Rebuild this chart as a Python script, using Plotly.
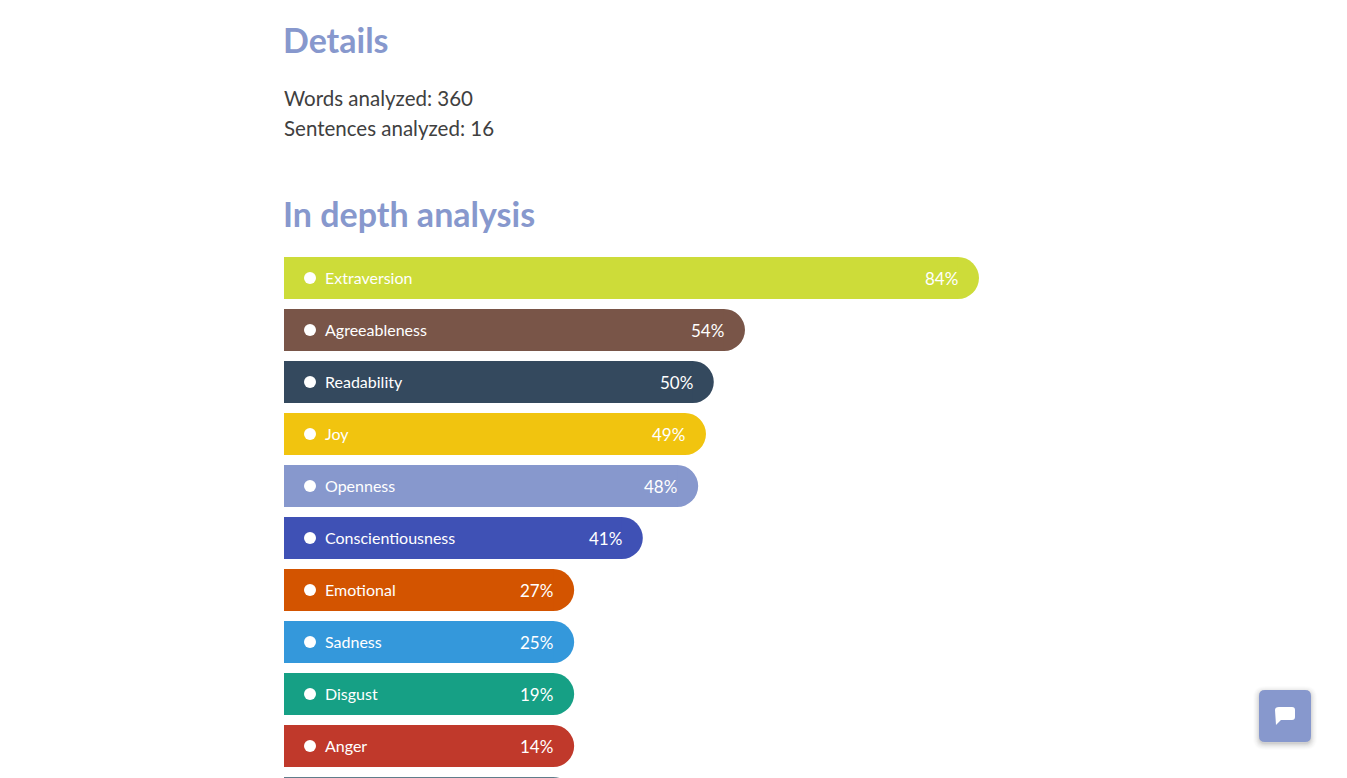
import plotly.graph_objects as go

# ---- data ----
categories = ["Extraversion", "Agreeableness", "Readability", "Joy", "Openness",
              "Conscientiousness", "Emotional", "Sadness", "Disgust", "Anger", "(cut off)"]
percent_labels = ["84%", "54%", "50%", "49%", "48%", "41%", "27%", "25%", "19%", "14%", ""]
# drawn bar extent, in % of the 780px track (the short bars stop at a minimum width)
bar_extent = [89.1, 59.1, 55.1, 54.1, 53.1, 46, 37.2, 37.2, 37.2, 37.2, 37.2]
bar_colors = ["#cddc39", "#795548", "#34495e", "#f1c40f", "#8798cd", "#3f51b5",
              "#d35400", "#3498db", "#16a085", "#c0392b", "#607d8b"]
header_1 = "Details"
detail_lines = ["Words analyzed: 360", "Sentences analyzed: 16"]
header_2 = "In depth analysis"

W, H = 1347, 778
FONT = "Lato"
ACCENT = "#8798cd"
TEXT_DARK = "#404040"
TRACK_LEFT, TRACK_W = 284, 780
ROW0, ROW_H, BAR_H = 278, 52, 42
END_RADIUS = 21
LEFT_RADIUS = 3
unit = TRACK_W / 100

fig = go.Figure()
# fully rounded bar, then a shorter, nearly square bar over it so only the right end stays round
fig.add_bar(y=categories, x=bar_extent, orientation="h", width=BAR_H / ROW_H,
            marker=dict(color=bar_colors, cornerradius=END_RADIUS, line_width=0),
            hoverinfo="skip")
fig.add_bar(y=categories, x=[e - END_RADIUS / unit for e in bar_extent],
            orientation="h", width=BAR_H / ROW_H,
            marker=dict(color=bar_colors, cornerradius=LEFT_RADIUS, line_width=0),
            hoverinfo="skip")
# white dots
fig.add_scatter(y=categories[:-1], x=[26 / unit] * 10, mode="markers",
                marker=dict(color="white", size=12, line_width=0), hoverinfo="skip")

for cat, pct, ext in zip(categories[:-1], percent_labels[:-1], bar_extent[:-1]):
    fig.add_annotation(x=40 / unit, y=cat, text=cat, showarrow=False, xanchor="left",
                       yanchor="middle", yshift=1, borderpad=0,
                       font=dict(family=FONT, size=16, color="white"))
    fig.add_annotation(x=(ext * unit - END_RADIUS + 1) / unit, y=cat, text=pct, showarrow=False,
                       xanchor="right", yanchor="middle", borderpad=0,
                       font=dict(family=FONT, size=17, color="white"))

def note(text, x, y, size, color, bold=False):
    fig.add_annotation(xref="paper", yref="paper", x=(x - 2) / W, y=1 - y / H, text=text,
                       showarrow=False, xanchor="left", yanchor="middle",
                       font=dict(family=FONT, size=size, color=color,
                                 weight=700 if bold else 400))

note(header_1, 283, 40, 34, ACCENT, True)
note(detail_lines[0], 284, 98, 20.5, TEXT_DARK)
note(detail_lines[1], 284, 128, 20.5, TEXT_DARK)
note(header_2, 283, 214, 34, ACCENT, True)

def rp(x, y):
    return f"{x / W:.5f},{1 - y / H:.5f}"

def round_rect(x0, y0, x1, y1, r):
    return (f"M {rp(x0 + r, y0)} L {rp(x1 - r, y0)} Q {rp(x1, y0)} {rp(x1, y0 + r)} "
            f"L {rp(x1, y1 - r)} Q {rp(x1, y1)} {rp(x1 - r, y1)} "
            f"L {rp(x0 + r, y1)} Q {rp(x0, y1)} {rp(x0, y1 - r)} "
            f"L {rp(x0, y0 + r)} Q {rp(x0, y0)} {rp(x0 + r, y0)} Z")

shapes = []
for grow, op in [(6, 0.012), (5, 0.015), (4, 0.02), (3, 0.025), (2, 0.03), (1, 0.04), (0, 0.05)]:
    shapes.append(dict(type="path", xref="paper", yref="paper", line_width=0,
                       fillcolor="black", opacity=op,
                       path=round_rect(1259 - grow, 692 - grow, 1311 + grow, 744 + grow, 6 + grow)))
shapes.append(dict(type="path", xref="paper", yref="paper", line_width=0, fillcolor=ACCENT,
                   path=round_rect(1259, 690, 1311, 742, 6)))
bubble = (f"M {rp(1279, 707)} L {rp(1292, 707)} Q {rp(1295, 707)} {rp(1295, 710)} "
          f"L {rp(1295, 717)} Q {rp(1295, 720)} {rp(1292, 720)} L {rp(1281, 720)} "
          f"L {rp(1276, 725)} L {rp(1275, 710)} Q {rp(1275, 707)} {rp(1279, 707)} Z")
shapes.append(dict(type="path", xref="paper", yref="paper", line_width=0,
                   fillcolor="white", path=bubble))

fig.update_layout(
    width=W, height=H, margin=dict(l=0, r=0, t=0, b=0),
    paper_bgcolor="white", plot_bgcolor="white", showlegend=False, barmode="overlay",
    shapes=shapes,
    xaxis=dict(domain=[TRACK_LEFT / W, 1], range=[0, (W - TRACK_LEFT) / unit],
               visible=False, fixedrange=True),
    yaxis=dict(domain=[0, 1], type="category", categoryorder="array", categoryarray=categories,
               range=[(H - ROW0) / ROW_H, -ROW0 / ROW_H],
               visible=False, fixedrange=True),
)
fig.write_html("out.html", config=dict(displayModeBar=False),
               post_script="document.body.style.margin='0';document.body.style.overflow='hidden';")
